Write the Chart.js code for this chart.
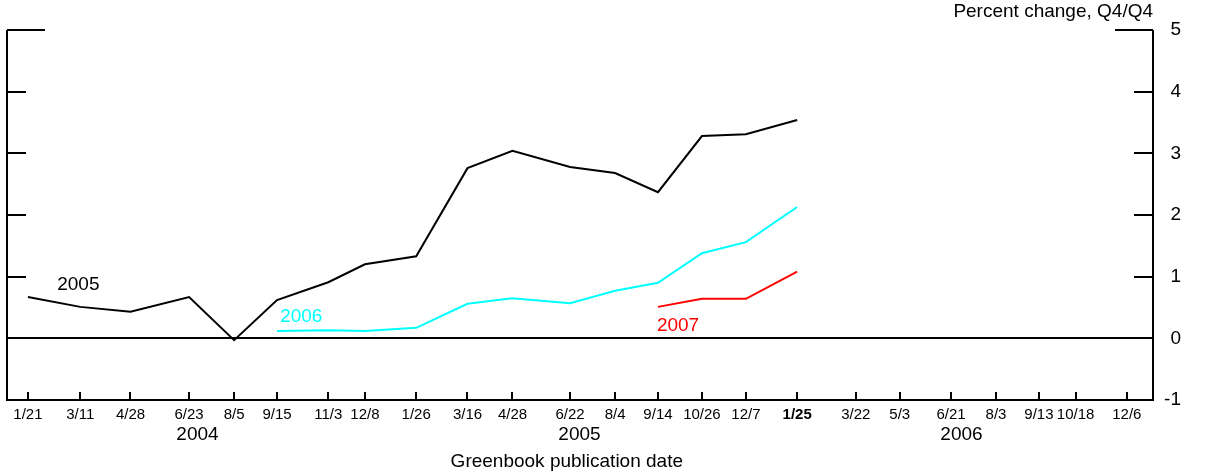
<!DOCTYPE html>
<html>
<head>
<meta charset="utf-8">
<script src="https://cdn.jsdelivr.net/npm/chart.js@4/dist/chart.umd.min.js"></script>
<style>
  html, body { margin: 0; padding: 0; background: #fff; }
  #wrap { width: 1209px; height: 473px; }
</style>
</head>
<body>
<div id="wrap"><canvas id="greenbook"></canvas></div>
<script>
// Greenbook publication dates (x axis ticks)
var pubDates = ['2004-01-21', '2004-03-11', '2004-04-28', '2004-06-23', '2004-08-05', '2004-09-15',
  '2004-11-03', '2004-12-08', '2005-01-26', '2005-03-16', '2005-04-28', '2005-06-22', '2005-08-04',
  '2005-09-14', '2005-10-26', '2005-12-07', '2006-01-25', '2006-03-22', '2006-05-03', '2006-06-21',
  '2006-08-03', '2006-09-13', '2006-10-18', '2006-12-06']

// forecasts for each year, one value per publication date (null = no forecast yet)
var forecast2005 = [0.67, 0.51, 0.43, 0.67, -0.03, 0.62, 0.91, 1.20, 1.33, 2.76, 3.04, 2.78, 2.68, 2.37, 3.28, 3.31, 3.54]
var forecast2006 = [null, null, null, null, null, 0.12, 0.13, 0.12, 0.17, 0.56, 0.65, 0.57, 0.77, 0.90, 1.38, 1.56, 2.13]
var forecast2007 = [null, null, null, null, null, null, null, null, null, null, null, null, null, 0.51, 0.64, 0.64, 1.08]

var seriesNames = ['2005', '2006', '2007']
var seriesColors = ['#000000', '#00ffff', '#ff0000']
var years = ['2004', '2005', '2006']
var yTicks = [-1, 0, 1, 2, 3, 4, 5]
var currentDate = '2006-01-25'

var FONT = "'Liberation Sans', Arial, sans-serif"
var START = Date.parse('2004-01-01')
function dayOf(s) { return (Date.parse(s) - START) / 86400000 }
function shortDate(s) { return parseInt(s.slice(5, 7), 10) + '/' + parseInt(s.slice(8, 10), 10) }

function toPoints(values) {
  var pts = []
  for (var i = 0; i < values.length; i++) {
    if (values[i] !== null && values[i] !== undefined) pts.push({ x: dayOf(pubDates[i]), y: values[i] })
  }
  return pts
}

var allSeries = [forecast2005, forecast2006, forecast2007]
var datasets = allSeries.map(function (vals, i) {
  return {
    label: seriesNames[i],
    data: toPoints(vals),
    borderColor: seriesColors[i],
    borderWidth: 2,
    pointRadius: 0,
    tension: 0,
    fill: false
  }
})

// where the series names sit (data coordinates)
var nameAnchors = [
  { date: '2004-02-18', value: 0.87 },
  { date: '2004-09-18', value: 0.35 },
  { date: '2005-09-13', value: 0.20 }
]

var decorations = {
  id: 'decorations',
  afterDraw: function (chart) {
    var ctx = chart.ctx
    var area = chart.chartArea
    var x = chart.scales.x
    var y = chart.scales.y
    ctx.save()
    ctx.strokeStyle = '#000'
    ctx.lineWidth = 2
    ctx.beginPath()
    // frame: left, bottom, right (no top line)
    ctx.moveTo(area.left, area.top)
    ctx.lineTo(area.left, area.bottom)
    ctx.lineTo(area.right, area.bottom)
    ctx.lineTo(area.right, area.top)
    // x ticks pointing inward
    pubDates.forEach(function (d) {
      var px = Math.round(x.getPixelForValue(dayOf(d)))
      ctx.moveTo(px, area.bottom)
      ctx.lineTo(px, area.bottom - 8)
    })
    // y ticks on both sides
    yTicks.forEach(function (v) {
      if (v === -1) return
      var py = Math.round(y.getPixelForValue(v))
      var len = v === 5 ? 38 : 19
      ctx.moveTo(area.left, py)
      ctx.lineTo(area.left + len, py)
      ctx.moveTo(area.right, py)
      ctx.lineTo(area.right - len, py)
    })
    ctx.stroke()

    // series names
    ctx.font = '19px ' + FONT
    ctx.textAlign = 'left'
    ctx.textBaseline = 'middle'
    nameAnchors.forEach(function (a, i) {
      ctx.fillStyle = seriesColors[i]
      ctx.fillText(seriesNames[i], x.getPixelForValue(dayOf(a.date)), y.getPixelForValue(a.value))
    })

    // units
    ctx.fillStyle = '#000'
    ctx.font = '19px ' + FONT
    ctx.textAlign = 'right'
    ctx.fillText('Percent change, Q4/Q4', area.right, 12)
    ctx.restore()
  }
}

new Chart(document.getElementById('greenbook'), {
  type: 'line',
  data: { datasets: datasets },
  options: {
    responsive: true,
    maintainAspectRatio: false,
    animation: false,
    layout: { padding: { left: 7, top: 30, right: 28, bottom: 0 } },
    plugins: { legend: { display: false }, tooltip: { enabled: false } },
    scales: {
      x: {
        type: 'linear',
        position: 'bottom',
        min: 0,
        max: dayOf('2006-12-31'),
        grid: { display: false, drawTicks: false },
        border: { display: false },
        afterBuildTicks: function (scale) {
          scale.ticks = pubDates.map(function (d) { return { value: dayOf(d) } })
        },
        afterFit: function (scale) { scale.height = 22 },
        ticks: {
          autoSkip: false,
          maxRotation: 0,
          padding: 6,
          color: '#000',
          font: function (c) {
            var bold = c.index !== undefined && pubDates[c.index] === currentDate
            return { family: FONT, size: 15, weight: bold ? 'bold' : 'normal' }
          },
          callback: function (value, index) { return shortDate(pubDates[index]) }
        }
      },
      x2: {
        type: 'linear',
        position: 'bottom',
        min: 0,
        max: dayOf('2006-12-31'),
        grid: { display: false, drawTicks: false },
        border: { display: false },
        afterBuildTicks: function (scale) {
          scale.ticks = years.map(function (yr) { return { value: dayOf(yr + '-07-01') } })
        },
        afterFit: function (scale) { scale.height = 51 },
        ticks: {
          autoSkip: false,
          maxRotation: 0,
          padding: 1,
          color: '#000',
          font: { family: FONT, size: 19 },
          callback: function (value, index) { return years[index] }
        },
        title: {
          display: true,
          text: 'Greenbook publication date\u00a0\u00a0\u00a0\u00a0\u00a0',
          color: '#000',
          font: { family: FONT, size: 19 },
          padding: { top: 0, bottom: 0 }
        }
      },
      y: {
        type: 'linear',
        position: 'right',
        min: -1,
        max: 5,
        grid: {
          drawTicks: false,
          lineWidth: 2,
          color: function (c) { return c.tick && c.tick.value === 0 ? '#000' : 'rgba(0,0,0,0)' }
        },
        border: { display: false },
        afterBuildTicks: function (scale) {
          scale.ticks = yTicks.map(function (v) { return { value: v } })
        },
        afterFit: function (scale) { scale.width = 28 },
        ticks: {
          padding: 11,
          crossAlign: 'far',
          color: '#000',
          font: { family: FONT, size: 19 }
        }
      }
    }
  },
  plugins: [decorations]
})
</script>
</body>
</html>
